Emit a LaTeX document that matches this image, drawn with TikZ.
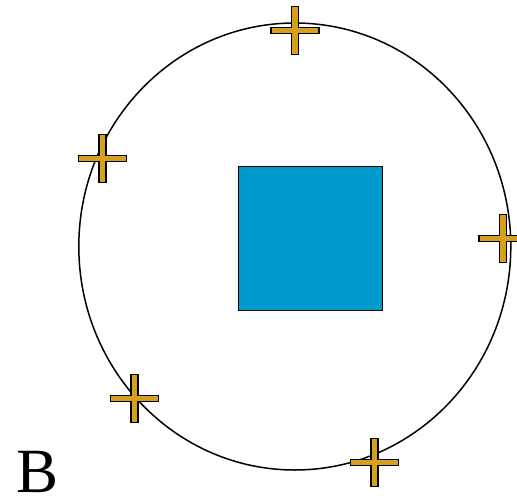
\documentclass[tikz,border=0pt]{standalone}
\usepackage{fontspec}
\setmainfont{Liberation Serif}
\usetikzlibrary{calc}
\definecolor{boxc}{HTML}{0099CC}
\definecolor{goldc}{HTML}{D6A01A}
\tikzset{
  ring/.style={draw=black, line width=1.5pt},
  core/.style={fill=boxc, draw=black, line width=1.5pt},
  plusm/.style={fill=goldc, draw=black, line width=1.5pt, line join=miter},
}
\newcommand{\plusAt}[2]{%
  \draw[plusm] ($(#1,#2)+(-24,-3)$) -- ++(20.5,0) -- ++(0,-21) -- ++(7,0) -- ++(0,21)
    -- ++(20.5,0) -- ++(0,6) -- ++(-20.5,0) -- ++(0,21) -- ++(-7,0) -- ++(0,-21)
    -- ++(-20.5,0) -- cycle;}

\begin{document}
\begin{tikzpicture}[x=1pt, y=-1pt]
  \useasboundingbox (0,0) rectangle (517,499);
  \draw[ring] (294.8,246.5) ellipse [x radius=216, y radius=223.5];
  \draw[core] (238.5,166.5) rectangle (382.5,310.5);
  \plusAt{295}{30.5}
  \plusAt{102.5}{158.5}
  \plusAt{503}{238.5}
  \plusAt{134.5}{398.5}
  \plusAt{374.5}{462.5}
  \node[font=\fontsize{63}{63}\selectfont, inner sep=0pt] (lbl) at (37.5,472) {B};
\end{tikzpicture}
\end{document}
